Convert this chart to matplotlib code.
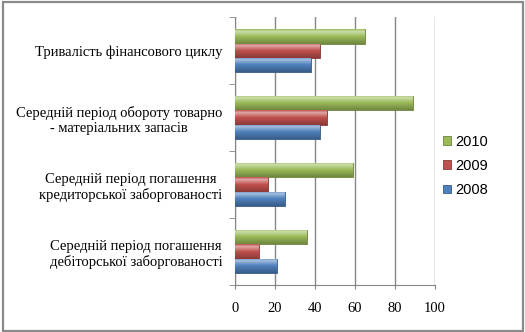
import numpy as np
import matplotlib.pyplot as plt
from matplotlib.colors import to_rgb, LinearSegmentedColormap
from matplotlib.patches import Rectangle

# Показники операційного та фінансового циклу, днів
categories = [
    "Середній період погашення\nдебіторської заборгованості",
    "Середній період погашення\nкредиторської заборгованості",
    "Середній період обороту товарно\n- матеріальних запасів",
    "Тривалість фінансового циклу",
]
years = ["2008", "2009", "2010"]
values_2008 = [20.8, 25.0, 42.5, 38.0]
values_2009 = [11.8, 16.3, 45.8, 42.5]
values_2010 = [36.0, 58.8, 88.8, 65.0]
series = [values_2008, values_2009, values_2010]
colors = ["#4F81BD", "#C0504D", "#9BBB59"]

plt.rcParams["font.family"] = ["Liberation Serif", "DejaVu Serif"]

fig = plt.figure(figsize=(5.25, 3.32), dpi=100)
ax = fig.add_axes([235 / 525, 1 - 285 / 332, 200 / 525, (285 - 17.3) / 332])

y = np.arange(len(categories))
h = 0.215


def shade(color):
    # light top edge, base colour in the middle, darker bottom
    r, g, b = to_rgb(color)
    light = tuple(c + (1 - c) * 0.5 for c in (r, g, b))
    dark = tuple(c * 0.72 for c in (r, g, b))
    return LinearSegmentedColormap.from_list("s", [(0, dark), (0.5, (r, g, b)), (0.85, light), (1, (r, g, b))])


grad = np.linspace(0, 1, 64).reshape(-1, 1)
handles = []
for i, (vals, col) in enumerate(zip(series, colors)):
    bars = ax.barh(y + (i - 1) * h, vals, height=h, color=col,
                   edgecolor=tuple(c * 0.7 for c in to_rgb(col)), linewidth=0.6, zorder=3, label=years[i])
    handles.append(bars)
    cmap = shade(col)
    for b in bars:
        x0, y0 = b.get_x(), b.get_y()
        im = ax.imshow(grad, cmap=cmap, origin="lower", aspect="auto",
                       extent=(x0, x0 + b.get_width(), y0, y0 + b.get_height()), zorder=3.5)
        im.set_clip_path(b)

ax.set_xlim(0, 100)
ax.set_ylim(-0.5, len(categories) - 0.5)
ax.set_xticks(np.arange(0, 101, 20))
ax.tick_params(axis="x", length=3, color="#868686", labelsize=10.5, pad=9)
ax.xaxis.grid(True, color="#868686", linewidth=1, zorder=0)
ax.set_axisbelow(True)

ax.set_yticks(y)
ax.set_yticklabels(categories, fontsize=10.5)
for lbl in ax.get_yticklabels():
    lbl.set_multialignment("center")
ax.tick_params(axis="y", length=0, pad=9)
ax.set_yticks(np.arange(-0.5, len(categories), 1), minor=True)
ax.tick_params(axis="y", which="minor", length=4, color="#868686")

for s in ["top", "right"]:
    ax.spines[s].set_visible(False)
for s in ["left", "bottom"]:
    ax.spines[s].set_color("#868686")

leg = ax.legend(handles[::-1], years[::-1], loc="center left",
                bbox_to_anchor=(430 / 525, 1 - 166 / 332), bbox_transform=fig.transFigure,
                frameon=False, handlelength=0.55, handleheight=0.55, handletextpad=0.3,
                labelspacing=0.7, prop={"family": "Liberation Sans", "size": 10.5})

fig.patches.append(Rectangle((2.5 / 525, 1.5 / 332), 520.5 / 525, 328.5 / 332,
                             transform=fig.transFigure, fill=False,
                             edgecolor="#8a8a8a", linewidth=1.6))

fig.savefig("out.png", dpi=100)
